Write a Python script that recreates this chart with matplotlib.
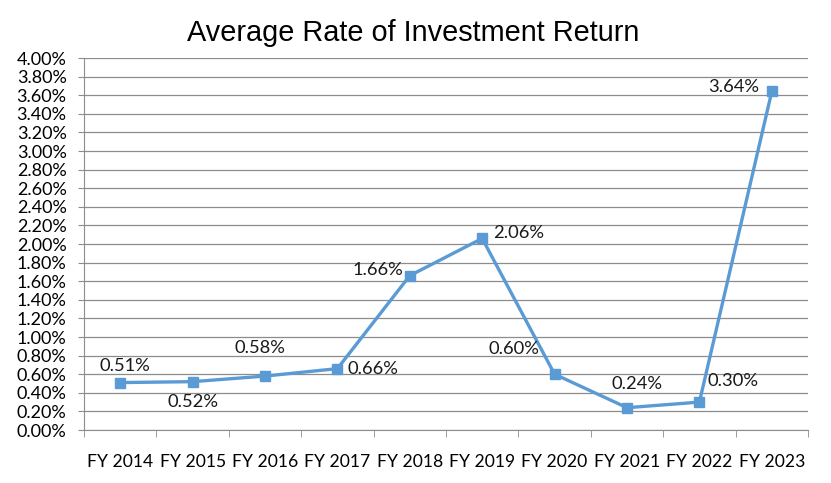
import matplotlib.pyplot as plt
from matplotlib.ticker import FuncFormatter, FixedLocator

# data
years = ["FY 2014", "FY 2015", "FY 2016", "FY 2017", "FY 2018",
         "FY 2019", "FY 2020", "FY 2021", "FY 2022", "FY 2023"]
returns = [0.51, 0.52, 0.58, 0.66, 1.66, 2.06, 0.60, 0.24, 0.30, 3.64]

# label offsets (points) and alignment for each data label
offsets = [(3, 12), (0, -15), (-4, 20), (7, 0), (-5, 4),
           (8, 4), (-29, 18), (7, 17), (6, 15), (-9, 3)]
aligns = ["center", "center", "center", "left", "right",
          "left", "center", "center", "left", "right"]

plt.rcParams['font.family'] = ['Lato', 'DejaVu Sans']

fig = plt.figure(figsize=(8.31, 4.83), dpi=100)
ax = fig.add_axes([0.1011, 0.1097, 0.8712, 0.7702])

x = list(range(len(years)))
ax.plot(x, returns, color="#5B9BD5", linewidth=2.4, marker="s", markersize=6.5)

for i, v in enumerate(returns):
    ax.annotate(f"{v:.2f}%", (i, v), xytext=offsets[i], textcoords="offset points",
                ha=aligns[i], va="center", fontsize=13.2, color="#1a1a1a")

ax.set_xlim(-0.5, len(years) - 0.5)
ax.set_ylim(0, 4.0)
ax.set_yticks([i * 0.2 for i in range(21)])
ax.yaxis.set_major_formatter(FuncFormatter(lambda v, p: f"{v:.2f}%"))
ax.yaxis.grid(True, color="#8c8c8c", linewidth=0.9)
ax.set_axisbelow(True)

ax.set_xticks(x)
ax.set_xticklabels(years)
ax.xaxis.set_minor_locator(FixedLocator([i - 0.5 for i in range(len(years) + 1)]))
ax.tick_params(axis="x", which="major", length=0, pad=17, labelsize=12.6)
ax.tick_params(axis="x", which="minor", length=5, direction="out", color="#8c8c8c")
ax.tick_params(axis="y", length=4.5, direction="out", color="#8c8c8c", pad=8, labelsize=13)

for s in ["top", "right"]:
    ax.spines[s].set_visible(False)
for s in ["left", "bottom"]:
    ax.spines[s].set_color("#8c8c8c")

fig.text(0.497, 0.932, "Average Rate of Investment Return", ha="center", va="center",
         fontsize=20.8, family="Liberation Sans")

fig.savefig("out.png", dpi=100)
